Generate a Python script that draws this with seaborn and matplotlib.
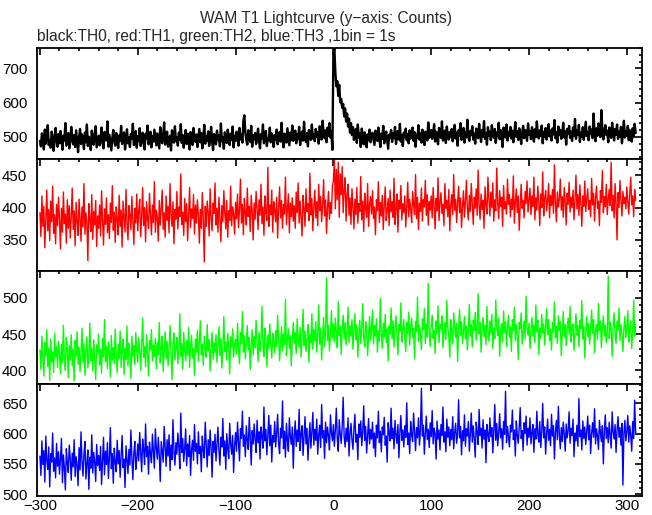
import matplotlib
matplotlib.use("Agg")
import matplotlib.pyplot as plt
from matplotlib.ticker import MultipleLocator
import numpy as np
import pandas as pd
import seaborn as sns

# time bins (1 bin = 1 s), t = -300 ... 309
t_start = -300
t_stop = 310

# TH0 (black)
th0 = [
    488, 472, 510, 495, 463, 521, 480, 499, 534, 476, 490, 468, 515, 502, 459, 487, 526, 493, 471, 508,
    481, 517, 496, 462, 503, 489, 540, 474, 492, 511, 466, 485, 529, 497, 478, 505, 470, 519, 486, 455,
    498, 523, 479, 507, 491, 464, 512, 484, 536, 473, 500, 488, 461, 518, 494, 477, 509, 531, 469, 487,
    503, 475, 492, 527, 482, 466, 514, 498, 489, 545, 471, 506, 483, 460, 497, 520, 486, 474, 511, 493,
    467, 504, 488, 532, 479, 496, 513, 463, 490, 522, 481, 499, 470, 508, 495, 538, 476, 484, 517, 468,
    501, 487, 525, 473, 496, 512, 480, 463, 509, 494, 533, 478, 491, 515, 469, 502, 486, 521, 497, 475,
    510, 489, 466, 528, 493, 481, 506, 542, 477, 498, 515, 471, 490, 503, 460, 519, 494, 483, 531, 487,
    499, 474, 512, 491, 537, 482, 505, 468, 496, 520, 479, 509, 488, 463, 514, 501, 476, 526, 492, 485,
    507, 470, 497, 523, 484, 511, 466, 494, 535, 480, 502, 489, 516, 473, 498, 529, 486, 461, 508, 495,
    478, 518, 490, 504, 472, 539, 487, 499, 465, 513, 494, 482, 521, 500, 476, 509, 491, 530, 469, 503,
    488, 515, 497, 474, 526, 492, 506, 483, 548, 563, 512, 490, 477, 519, 498, 485, 532, 471, 504, 493,
    511, 479, 499, 524, 487, 466, 508, 495, 536, 481, 502, 517, 473, 496, 490, 527, 484, 510, 498, 470,
    505, 492, 521, 478, 500, 514, 486, 541, 494, 469, 509, 497, 483, 525, 501, 475, 512, 490, 533, 488,
    496, 518, 481, 507, 493, 529, 476, 502, 515, 489, 544, 498, 485, 511, 472, 520, 503, 491, 536, 495,
    508, 487, 523, 499, 514, 480, 531, 506, 492, 547, 511, 496, 519, 484, 527, 503, 540, 498, 515, 462,
    742, 760, 690, 648, 663, 620, 652, 601, 611, 585, 596, 560, 583, 545, 568, 530, 553, 512, 540, 505,
    529, 491, 515, 523, 482, 536, 498, 511, 470, 524, 505, 478, 513, 495, 469, 507, 490, 521, 484, 500,
    512, 493, 476, 518, 502, 488, 527, 497, 470, 509, 494, 532, 481, 503, 515, 489, 465, 506, 498, 520,
    485, 510, 496, 529, 479, 501, 517, 492, 538, 486, 504, 473, 512, 499, 524, 490, 508, 481, 519, 495,
    503, 527, 488, 514, 471, 506, 498, 534, 492, 510, 483, 521, 500, 476, 515, 508, 489, 542, 497, 513,
    520, 494, 509, 537, 486, 515, 501, 478, 526, 511, 497, 545, 489, 506, 518, 482, 530, 503, 492, 514,
    499, 523, 487, 508, 535, 495, 512, 474, 519, 504, 540, 491, 507, 526, 483, 513, 498, 550, 502, 488,
    517, 505, 531, 492, 509, 480, 524, 513, 496, 538, 507, 485, 520, 501, 546, 494, 511, 477, 528, 503,
    515, 490, 534, 508, 497, 523, 482, 512, 504, 541, 493, 519, 506, 470, 527, 510, 498, 536, 489, 514,
    502, 529, 495, 518, 484, 509, 543, 500, 516, 491, 525, 507, 479, 513, 532, 496, 520, 504, 488, 539,
    506, 517, 493, 528, 511, 486, 522, 499, 545, 508, 495, 519, 503, 533, 481, 514, 500, 526, 492, 510,
    537, 501, 518, 489, 524, 507, 549, 496, 513, 483, 530, 505, 520, 494, 511, 541, 498, 516, 477, 523,
    509, 532, 497, 515, 488, 527, 503, 552, 494, 519, 506, 535, 485, 512, 500, 528, 491, 517, 544, 502,
    514, 490, 530, 508, 521, 496, 568, 511, 487, 525, 503, 539, 515, 499, 578, 520, 492, 513, 534, 505,
    518, 484, 527, 509, 497, 541, 512, 489, 523, 506, 536, 494, 515, 501, 529, 481, 510, 547, 498, 516,
    503, 532, 490, 519, 507, 486, 525, 499, 538, 511,
]

# TH1 (red)
th1 = [
    392, 355, 418, 371, 402, 338, 385, 427, 364, 397, 349, 410, 378, 433, 360, 389, 344, 405, 372, 416,
    381, 336, 399, 362, 424, 375, 390, 345, 412, 368, 403, 353, 386, 430, 366, 395, 341, 408, 379, 357,
    413, 384, 348, 401, 370, 437, 359, 392, 376, 318, 406, 382, 363, 420, 351, 394, 373, 411, 340, 387,
    368, 404, 356, 426, 380, 342, 398, 374, 415, 361, 389, 352, 407, 377, 434, 365, 393, 346, 401, 383,
    358, 419, 371, 396, 339, 410, 385, 362, 428, 374, 350, 403, 388, 366, 417, 381, 343, 399, 376, 421,
    364, 395, 413, 355, 386, 431, 372, 400, 347, 409, 383, 368, 422, 391, 358, 404, 377, 440, 362, 396,
    385, 348, 411, 373, 399, 427, 366, 392, 354, 418, 380, 402, 361, 437, 389, 371, 409, 344, 397, 382,
    425, 367, 401, 386, 452, 374, 393, 357, 414, 378, 406, 349, 390, 431, 369, 398, 383, 420, 359, 404,
    376, 412, 388, 345, 397, 368, 423, 381, 316, 402, 371, 410, 393, 356, 429, 384, 364, 407, 391, 438,
    373, 399, 362, 416, 385, 347, 403, 378, 426, 392, 367, 411, 354, 395, 380, 433, 372, 401, 389, 359,
    408, 383, 421, 369, 397, 444, 376, 405, 358, 414, 391, 373, 430, 386, 402, 363, 419, 395, 350, 407,
    382, 425, 398, 366, 412, 388, 436, 375, 401, 357, 418, 393, 380, 462, 371, 404, 389, 427, 362, 409,
    396, 378, 416, 353, 400, 432, 384, 411, 368, 405, 390, 447, 374, 398, 421, 361, 407, 386, 415, 379,
    403, 368, 424, 392, 438, 376, 410, 385, 356, 419, 398, 371, 429, 394, 406, 380, 453, 389, 414, 364,
    401, 427, 384, 409, 372, 436, 395, 417, 378, 404, 443, 387, 412, 360, 399, 425, 382, 408, 391, 433,
    441, 475, 398, 459, 412, 470, 385, 452, 420, 463, 392, 428, 446, 379, 420, 436, 388, 415, 374, 429,
    402, 367, 413, 389, 431, 376, 406, 394, 448, 381, 410, 363, 422, 399, 385, 437, 371, 405, 417, 390,
    426, 383, 401, 358, 412, 395, 440, 377, 408, 387, 419, 366, 403, 432, 380, 396, 414, 372, 427, 393,
    409, 385, 445, 374, 400, 421, 362, 411, 398, 434, 381, 406, 392, 418, 370, 402, 439, 386, 413, 397,
    377, 425, 404, 389, 451, 383, 416, 366, 407, 394, 430, 379, 412, 401, 442, 388, 420, 373, 409, 396,
    418, 384, 431, 402, 367, 414, 395, 446, 380, 408, 423, 391, 405, 372, 437, 399, 411, 386, 428, 364,
    404, 420, 389, 451, 396, 413, 377, 407, 433, 392, 415, 369, 401, 426, 385, 410, 442, 398, 381, 419,
    394, 437, 406, 374, 416, 399, 429, 388, 458, 403, 382, 421, 397, 411, 368, 432, 405, 390, 447, 413,
    387, 424, 400, 438, 379, 412, 395, 461, 407, 383, 426, 402, 416, 371, 434, 398, 409, 390, 444, 405,
    420, 386, 413, 397, 449, 376, 408, 429, 392, 418, 365, 403, 436, 399, 411, 384, 425, 406, 441, 393,
    412, 430, 389, 418, 402, 447, 381, 415, 396, 433, 408, 372, 421, 400, 455, 387, 414, 426, 395, 410,
    437, 384, 419, 403, 428, 391, 466, 407, 378, 424, 401, 413, 444, 396, 417, 385, 431, 409, 373, 422,
    405, 439, 393, 416, 400, 427, 381, 412, 450, 398, 420, 388, 435, 406, 371, 418, 402, 441, 394, 414,
    429, 397, 411, 386, 445, 404, 422, 379, 415, 433, 399, 410, 372, 426, 408, 457, 392, 417, 401, 436,
    389, 413, 428, 403, 470, 395, 419, 384, 437, 407, 350, 423, 400, 442, 411, 387, 425, 406, 416, 398,
    432, 409, 390, 421, 447, 404, 418, 386, 428, 411,
]

# TH2 (green)
th2 = [
    428, 401, 447, 415, 392, 438, 420, 456, 405, 431, 386, 443, 412, 425, 397, 451, 418, 433, 404, 440,
    422, 395, 436, 410, 462, 417, 400, 445, 427, 390, 434, 414, 449, 406, 429, 385, 441, 419, 453, 408,
    432, 398, 424, 458, 411, 437, 393, 426, 446, 403, 421, 465, 413, 430, 399, 442, 416, 387, 435, 423,
    450, 407, 429, 396, 444, 418, 470, 412, 433, 402, 439, 425, 391, 448, 414, 431, 409, 457, 421, 397,
    436, 416, 454, 404, 427, 443, 394, 430, 415, 461, 406, 438, 422, 389, 447, 419, 434, 408, 452, 426,
    411, 445, 429, 400, 437, 472, 418, 433, 405, 449, 424, 392, 441, 428, 456, 413, 435, 419, 444, 402,
    438, 421, 466, 410, 432, 447, 398, 427, 453, 416, 440, 406, 429, 462, 423, 387, 436, 451, 414, 431,
    445, 409, 426, 478, 419, 437, 401, 452, 428, 413, 441, 420, 459, 404, 434, 448, 417, 430, 393, 443,
    425, 455, 412, 439, 468, 421, 436, 407, 447, 430, 418, 463, 427, 442, 399, 433, 452, 415, 438, 424,
    449, 411, 435, 460, 420, 444, 403, 431, 474, 426, 439, 414, 451, 429, 395, 446, 432, 457, 418, 436,
    443, 422, 465, 430, 409, 452, 437, 481, 425, 448, 416, 440, 462, 428, 445, 401, 434, 456, 421, 447,
    431, 469, 438, 412, 453, 426, 441, 488, 433, 419, 458, 444, 405, 449, 429, 464, 436, 417, 451, 440,
    424, 455, 432, 476, 446, 413, 439, 460, 427, 450, 435, 498, 420, 443, 457, 430, 448, 406, 441, 466,
    437, 452, 423, 471, 445, 431, 459, 418, 447, 484, 434, 454, 426, 442, 463, 411, 449, 438, 478, 429,
    456, 440, 467, 425, 451, 490, 436, 458, 414, 446, 473, 433, 455, 528, 441, 462, 427, 450, 482, 444,
    464, 439, 472, 453, 431, 495, 448, 460, 422, 457, 476, 443, 466, 435, 452, 487, 438, 461, 447, 470,
    429, 456, 478, 442, 463, 418, 451, 469, 437, 458, 492, 445, 433, 467, 454, 420, 449, 474, 441, 459,
    483, 436, 462, 447, 471, 425, 455, 440, 499, 452, 430, 465, 446, 477, 438, 457, 413, 461, 450, 486,
    443, 468, 432, 459, 475, 448, 421, 463, 454, 493, 439, 457, 470, 444, 426, 466, 451, 480, 435, 460,
    472, 445, 458, 416, 467, 453, 501, 440, 462, 449, 428, 471, 456, 485, 437, 464, 446, 520, 452, 433,
    461, 476, 444, 455, 423, 468, 450, 489, 438, 463, 457, 475, 431, 452, 466, 442, 496, 459, 447, 418,
    470, 454, 436, 479, 460, 445, 465, 412, 458, 484, 449, 467, 437, 453, 474, 443, 461, 428, 456, 491,
    447, 463, 432, 469, 455, 480, 441, 459, 506, 450, 466, 425, 457, 473, 446, 462, 435, 488, 453, 440,
    468, 451, 477, 430, 458, 444, 497, 461, 448, 472, 419, 455, 464, 439, 482, 452, 467, 433, 459, 476,
    445, 460, 426, 470, 454, 487, 441, 463, 450, 415, 466, 457, 479, 436, 452, 468, 443, 502, 459, 448,
    465, 430, 456, 473, 447, 462, 438, 490, 453, 469, 422, 458, 444, 477, 451, 464, 435, 460, 485, 449,
    470, 441, 457, 428, 466, 453, 494, 445, 461, 437, 475, 455, 467, 420, 452, 481, 446, 463, 434, 458,
    472, 450, 488, 439, 459, 464, 427, 454, 478, 448, 462, 433, 469, 457, 496, 443, 460, 417, 453, 474,
    446, 465, 436, 458, 483, 451, 470, 424, 456, 463, 442, 492, 455, 468, 431, 459, 475, 447, 462, 438,
    453, 530, 444, 466, 458, 419, 461, 479, 450, 437, 468, 455, 486, 441, 463, 449, 426, 457, 474, 445,
    460, 482, 439, 456, 468, 430, 452, 497, 447, 463,
]

# TH3 (blue)
th3 = [
    563, 531, 588, 549, 572, 520, 596, 556, 541, 578, 512, 567, 553, 601, 538, 560, 527, 584, 546, 570,
    533, 558, 592, 519, 565, 544, 507, 575, 552, 536, 581, 559, 523, 568, 545, 590, 529, 562, 548, 514,
    577, 540, 603, 555, 530, 566, 587, 525, 551, 573, 508, 561, 543, 598, 535, 569, 554, 521, 582, 547,
    564, 539, 579, 516, 557, 594, 532, 571, 549, 585, 526, 560, 610, 542, 567, 518, 576, 553, 537, 589,
    550, 572, 528, 563, 597, 544, 558, 511, 580, 556, 534, 574, 548, 606, 561, 524, 568, 587, 541, 559,
    583, 555, 602, 568, 537, 591, 574, 549, 616, 562, 579, 533, 586, 567, 552, 599, 571, 543, 608, 576,
    558, 594, 565, 521, 587, 570, 553, 612, 578, 546, 590, 563, 598, 539, 581, 557, 623, 572, 548, 585,
    566, 601, 579, 542, 634, 569, 592, 554, 576, 608, 547, 583, 562, 597, 531, 574, 589, 556, 615, 571,
    584, 550, 603, 567, 579, 537, 596, 573, 560, 619, 581, 545, 590, 564, 606, 576, 528, 587, 569, 599,
    555, 582, 611, 572, 548, 594, 578, 625, 563, 588, 541, 600, 575, 559, 617, 583, 566, 597, 536, 580,
    602, 571, 619, 586, 555, 608, 592, 637, 579, 598, 562, 613, 589, 574, 627, 594, 548, 605, 583, 616,
    591, 569, 622, 585, 603, 558, 611, 596, 576, 644, 588, 607, 565, 599, 630, 580, 614, 553, 597, 586,
    620, 578, 601, 632, 584, 567, 609, 593, 654, 575, 604, 561, 617, 589, 571, 626, 595, 582, 611, 543,
    598, 621, 579, 606, 587, 640, 572, 600, 613, 564, 595, 628, 583, 609, 556, 592, 618, 576, 603, 635,
    581, 607, 589, 624, 566, 598, 614, 577, 648, 593, 605, 559, 619, 585, 611, 596, 573, 631, 602, 588,
    615, 579, 606, 642, 592, 571, 623, 600, 584, 612, 660, 595, 578, 609, 587, 626, 563, 601, 617, 590,
    574, 608, 632, 586, 599, 557, 616, 594, 621, 580, 603, 646, 589, 612, 568, 597, 625, 583, 607, 591,
    619, 576, 601, 562, 614, 593, 637, 585, 604, 570, 611, 598, 627, 581, 596, 553, 618, 600, 588, 642,
    592, 609, 575, 622, 597, 584, 615, 560, 603, 630, 589, 606, 578, 613, 594, 651, 582, 601, 567, 620,
    598, 587, 634, 604, 572, 610, 593, 626, 581, 605, 675, 596, 614, 566, 601, 629, 590, 607, 577, 618,
    595, 638, 583, 609, 600, 558, 621, 591, 606, 573, 615, 597, 644, 586, 603, 570, 624, 594, 611, 580,
    607, 590, 628, 575, 602, 617, 584, 599, 656, 593, 612, 565, 605, 588, 631, 579, 608, 596, 620, 571,
    600, 634, 586, 613, 592, 561, 619, 603, 582, 640, 597, 609, 576, 623, 591, 606, 552, 615, 598, 587,
    626, 595, 610, 568, 604, 648, 589, 617, 580, 601, 633, 593, 608, 574, 620, 599, 670, 585, 612, 596,
    578, 614, 603, 639, 590, 606, 563, 621, 597, 584, 611, 643, 592, 605, 572, 618, 600, 629, 581, 609,
    594, 626, 583, 602, 615, 569, 608, 591, 637, 599, 586, 620, 577, 604, 650, 593, 611, 566, 601, 624,
    589, 607, 580, 632, 596, 613, 558, 603, 622, 590, 645, 598, 575, 610, 587, 619, 600, 571, 616, 593,
    605, 636, 584, 609, 597, 624, 562, 601, 588, 614, 579, 658, 595, 606, 573, 621, 592, 611, 582, 603,
    629, 590, 614, 567, 600, 618, 594, 641, 583, 608, 596, 574, 622, 601, 587, 613, 550, 604, 631, 592,
    610, 585, 619, 598, 576, 636, 603, 591, 615, 569, 606, 628, 594, 610, 581, 617, 515, 599, 622, 588,
    604, 630, 586, 613, 597, 571, 620, 592, 655, 601,
]

series = [th0, th1, th2, th3]
colors = ["black", "#ff0000", "#00ff00", "#0000ff"]
widths = [1.7, 1.0, 1.0, 1.0]
ylims = [(435, 760), (302, 475), (381, 537), (497, 682)]
ymajor = [100, 50, 50, 50]
yminor = [20, 10, 10, 10]

sns.set_style("white")
plt.rcParams["font.family"] = ["Liberation Sans", "DejaVu Sans"]

fig = plt.figure(figsize=(6.52, 5.15), dpi=100)

# panel edges in pixels (top -> bottom)
edges = [48, 159, 271, 384, 496]
left, right = 37, 641.5
W, H = 652, 515

t = np.arange(t_start, t_stop)
axes = []
for i, vals in enumerate(series):
    top_px, bot_px = edges[i], edges[i + 1]
    ax = fig.add_axes([left / W, 1 - bot_px / H, (right - left) / W, (bot_px - top_px) / H])
    df = pd.DataFrame({"time": t, "counts": vals})
    sns.lineplot(data=df, x="time", y="counts", ax=ax, color=colors[i],
                 linewidth=widths[i], estimator=None)
    ax.set_xlim(-303, 315)
    ax.set_ylim(*ylims[i])
    ax.xaxis.set_major_locator(MultipleLocator(100))
    ax.xaxis.set_minor_locator(MultipleLocator(20))
    ax.yaxis.set_major_locator(MultipleLocator(ymajor[i]))
    ax.yaxis.set_minor_locator(MultipleLocator(yminor[i]))
    ax.tick_params(which="both", direction="in", top=True, right=True, width=1.2, colors="black")
    ax.tick_params(which="major", length=5, labelsize=10.8)
    ax.tick_params(which="minor", length=2.5)
    ax.tick_params(axis="y", which="major", pad=7)
    ax.tick_params(axis="x", which="major", pad=2.5)
    for sp in ax.spines.values():
        sp.set_linewidth(1.3)
        sp.set_color("black")
    ax.set_xlabel("")
    ax.set_ylabel("")
    if i < 3:
        ax.tick_params(labelbottom=False)
    axes.append(ax)

fig.text(0.5, 1 - 18 / H, "WAM T1 Lightcurve (y\u2212axis: Counts)", ha="center", va="center", fontsize=11.2)
fig.text(left / W, 1 - 36 / H, "black:TH0, red:TH1, green:TH2, blue:TH3 ,1bin = 1s",
         ha="left", va="center", fontsize=11.2)

fig.savefig("out.png", dpi=100)
